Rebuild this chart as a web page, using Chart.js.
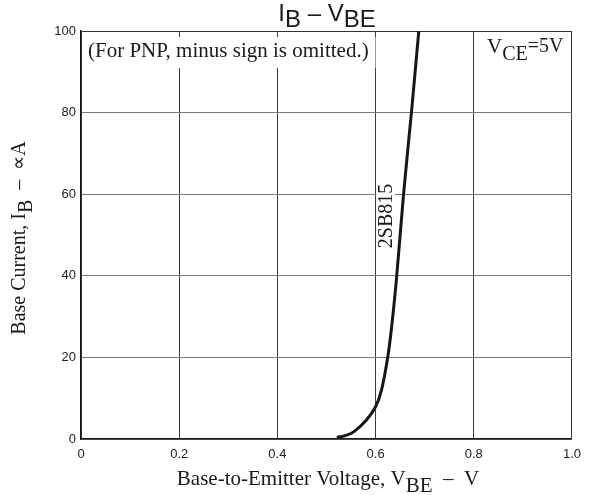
<!DOCTYPE html>
<html>
<head>
<meta charset="utf-8">
<script src="https://cdn.jsdelivr.net/npm/chart.js@4/dist/chart.umd.min.js"></script>
<style>
  html, body { margin: 0; padding: 0; background: #fff; }
  #wrap { width: 589px; height: 495px; }
</style>
</head>
<body>
<div id="wrap"><canvas id="ibChart" width="589" height="495"></canvas></div>
<script>
// IB - VBE curve for 2SB815
const vbe = [0.521, 0.540, 0.556, 0.581, 0.600, 0.612, 0.624, 0.632, 0.642, 0.657, 0.673, 0.688];
const ib  = [0.4,   0.9,   1.8,   4.6,   7.9,   12,    19.5,  26.7,  38.5,  60,    80,    100];
const xTicks = [0, 0.2, 0.4, 0.6, 0.8, 1.0];
const yTicks = [0, 20, 40, 60, 80, 100];

const SERIF = '"Liberation Serif", "Times New Roman", serif';
const SANS = '"Liberation Sans", Arial, sans-serif';

// draws a run of text pieces: [text, dy, size]
function richText(ctx, parts, x, y, font, align) {
  let total = 0;
  parts.forEach(p => { ctx.font = p[2] + 'px ' + font; total += ctx.measureText(p[0]).width; });
  let cx = align === 'center' ? x - total / 2 : x;
  ctx.textBaseline = 'alphabetic';
  ctx.textAlign = 'left';
  parts.forEach(p => {
    ctx.font = p[2] + 'px ' + font;
    ctx.fillText(p[0], cx, y + p[1]);
    cx += ctx.measureText(p[0]).width;
  });
}

const labels = {
  id: 'labels',
  beforeDatasetsDraw(chart) {
    const ctx = chart.ctx;
    const a = chart.chartArea;
    ctx.save();
    ctx.fillStyle = '#fff';
    ctx.fillRect(a.left + 1, 37, 376 - a.left - 1.5, 31);   // note box
    ctx.fillRect(376.5, 177, 18, 76);                        // curve label box
    ctx.restore();
  },
  afterDraw(chart) {
    const ctx = chart.ctx;
    ctx.save();
    ctx.fillStyle = '#1a1a1a';

    // title
    richText(ctx, [['I', 0, 24], ['B', 6, 24], [' \u2013 V', 0, 24], ['BE', 6, 24]], 327, 21, SANS, 'center');

    // notes
    richText(ctx, [['(For PNP, minus sign is omitted.)', 0, 21]], 88, 57, SERIF, 'left');
    richText(ctx, [['V', 0, 21], ['CE', 7, 20], ['=5V', -1, 20]], 487, 53, SERIF, 'left');

    // curve name
    ctx.save();
    ctx.translate(392, 216);
    ctx.rotate(-Math.PI / 2);
    richText(ctx, [['2SB815', 0, 20]], 0, 0, SERIF, 'center');
    ctx.restore();

    // axis titles
    richText(ctx, [['Base-to-Emitter Voltage, V', 0, 21], ['BE', 7, 21], ['  \u2013  V', 0, 21]], 328, 485, SERIF, 'center');

    ctx.save();
    ctx.translate(25, 238);
    ctx.rotate(-Math.PI / 2);
    richText(ctx, [['Base Current, I', 0, 20], ['B', 7, 20], ['  \u2013  \u221DA', 0, 20]], 0, 0, SERIF, 'center');
    ctx.restore();

    ctx.restore();
  }
};

new Chart(document.getElementById('ibChart'), {
  type: 'scatter',
  data: {
    datasets: [{
      label: '2SB815',
      data: vbe.map((v, i) => ({ x: v, y: ib[i] })),
      showLine: true,
      borderColor: '#161616',
      borderWidth: 3,
      pointRadius: 0,
      tension: 0.4,
      fill: false
    }]
  },
  options: {
    responsive: false,
    animation: false,
    layout: { padding: { left: 0, top: 31, right: 16, bottom: 0 } },
    plugins: {
      legend: { display: false },
      title: { display: false },
      tooltip: { enabled: false }
    },
    scales: {
      x: {
        type: 'linear',
        min: 0,
        max: 1,
        afterFit: s => { s.height = 56; },
        afterBuildTicks: s => { s.ticks = xTicks.map(v => ({ value: v })); },
        ticks: {
          padding: 8,
          color: '#222',
          font: { family: SANS, size: 13 },
          callback: v => v === 0 ? '0' : v.toFixed(1)
        },
        grid: { color: '#3c3c3c', lineWidth: 1, drawTicks: false },
        border: { color: '#1a1a1a', width: 1.5 }
      },
      y: {
        min: 0,
        max: 100,
        afterFit: s => { s.width = 81; },
        afterBuildTicks: s => { s.ticks = yTicks.map(v => ({ value: v })); },
        ticks: {
          padding: 5,
          color: '#222',
          font: { family: SANS, size: 13 }
        },
        grid: {
          color: c => c.tick && c.tick.value === 100 ? '#333' : '#7a7a7a',
          lineWidth: 1,
          drawTicks: false
        },
        border: { color: '#1a1a1a', width: 1.5 }
      }
    }
  },
  plugins: [labels]
});
</script>
</body>
</html>
